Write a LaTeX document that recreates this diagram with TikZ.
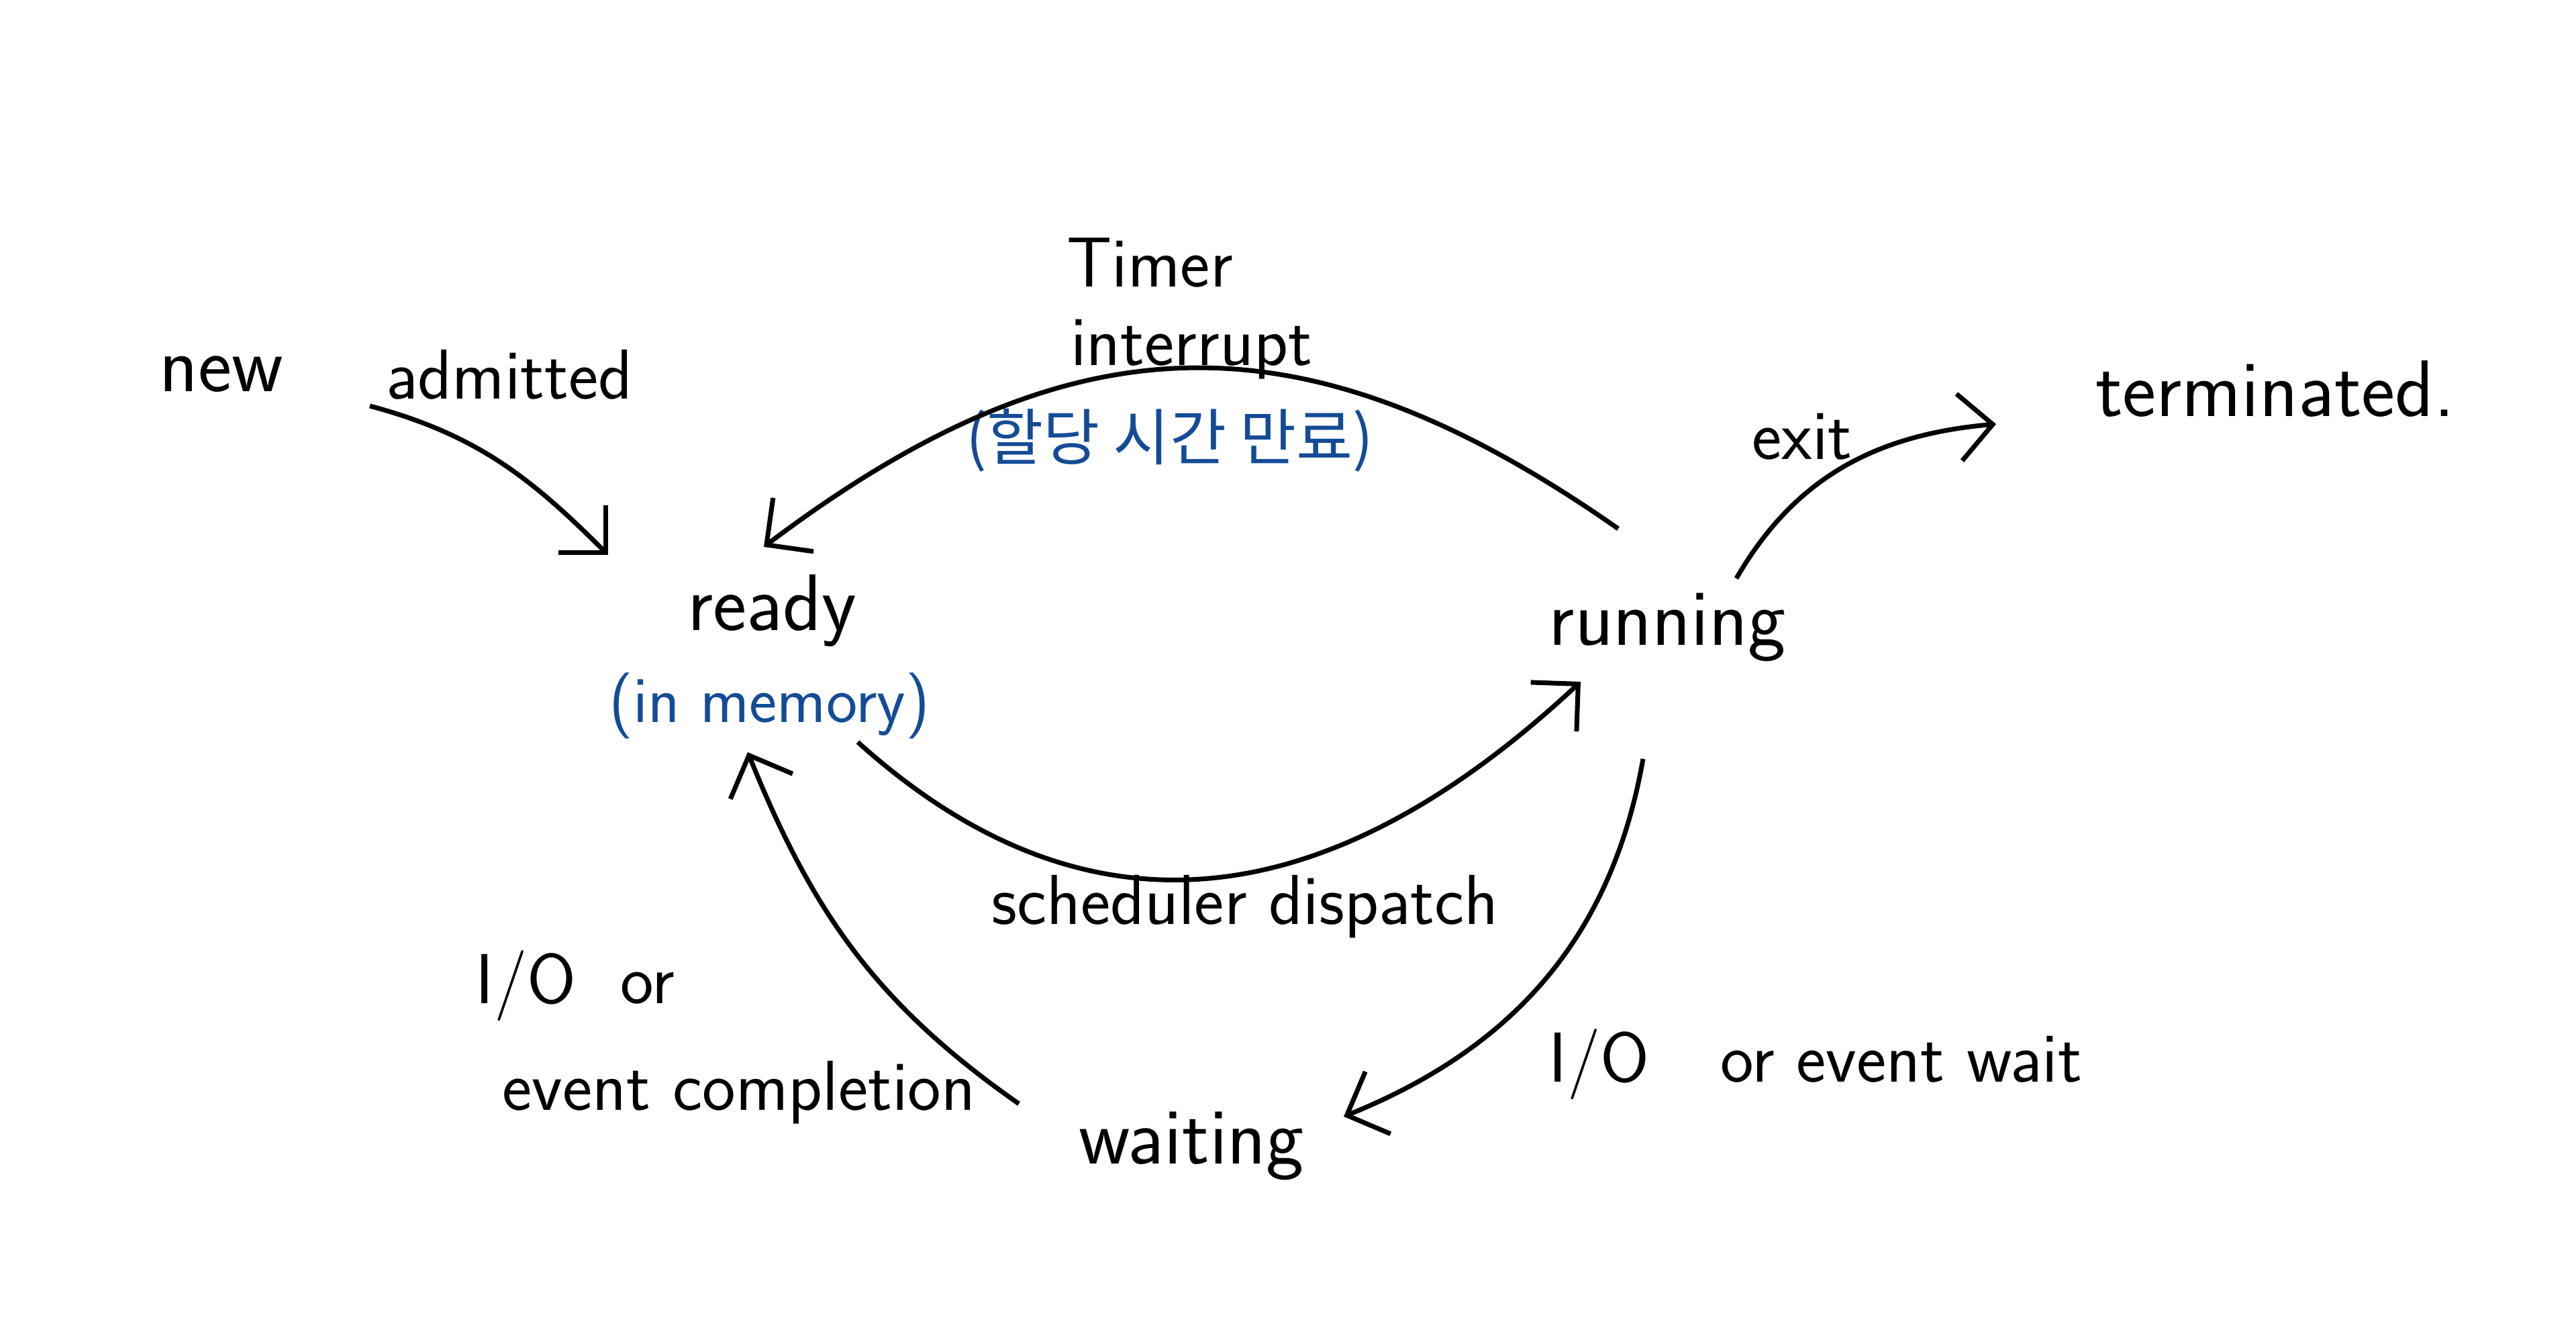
\documentclass[tikz,border=0pt]{standalone}
\usepackage{fontspec}
\newfontfamily\krfont{Noto Sans CJK KR}
\usetikzlibrary{arrows.meta}
\definecolor{penblue}{RGB}{20,75,150}

\begin{document}
\begin{tikzpicture}[x=1cm,y=1cm]
\tikzset{
  statenode/.style={inner sep=0pt,font=\sffamily\fontsize{34}{40}\selectfont},
  labelnode/.style={inner sep=0pt,font=\sffamily\fontsize{30}{36}\selectfont},
  bluenote/.style={inner sep=0pt,text=penblue,font=\sffamily\fontsize{28}{34}\selectfont},
  directed/.style={-{Straight Barb[length=5mm,width=10mm]},line width=2pt}
}
\useasboundingbox (0,0) rectangle (38.38,20.00);
\node[statenode] (n_new) at (3.30,14.42) {new};
\node[statenode] (n_ready) at (11.50,10.90) {ready};
\node[bluenote] (n_mem) at (11.46,9.48) {(in memory)};
\node[statenode] (n_running) at (24.84,10.65) {running};
\node[statenode] (n_waiting) at (17.75,2.92) {waiting};
\node[statenode] (n_term) at (33.90,14.20) {terminated.};
\node[labelnode] (l_admitted) at (7.59,14.42) {admitted};
\node[labelnode] (l_timer) at (17.13,16.08) {Timer};
\node[labelnode] (l_interrupt) at (17.75,14.79) {interrupt};
\node[bluenote,font=\krfont\fontsize{26}{32}\selectfont] (l_expire) at (17.43,13.44) {(할당 시간 만료)};
\node[labelnode] (l_exit) at (26.85,13.49) {exit};
\node[labelnode] (l_dispatch) at (18.55,6.49) {scheduler dispatch};
\node[labelnode] (l_io) at (8.57,5.31) {I/O\ \ or};
\node[labelnode] (l_completion) at (11.01,3.72) {event completion};
\node[labelnode] (l_wait) at (27.05,4.14) {I/O\quad or event wait};
\draw[directed] ([shift={(2.21,-0.47)}]n_new.center) to[out=-15,in=135] ([shift={(-2.44,0.83)}]n_ready.center);
\draw[directed] ([shift={(-0.73,1.47)}]n_running.center) to[out=145,in=37,looseness=1.15] ([shift={(-0.12,0.95)}]n_ready.center);
\draw[directed] ([shift={(1.28,-1.96)}]n_ready.center) to[out=-42,in=-137,looseness=1.15] ([shift={(-1.29,-0.81)}]n_running.center);
\draw[directed] ([shift={(-0.36,-1.96)}]n_running.center) to[out=-100,in=22] ([shift={(2.27,0.44)}]n_waiting.center);
\draw[directed] ([shift={(-2.57,0.63)}]n_waiting.center) to[out=145,in=-68] ([shift={(-0.36,-2.11)}]n_ready.center);
\draw[directed] ([shift={(1.03,0.73)}]n_running.center) to[out=60,in=185] ([shift={(-4.16,-0.52)}]n_term.center);
\end{tikzpicture}
\end{document}
